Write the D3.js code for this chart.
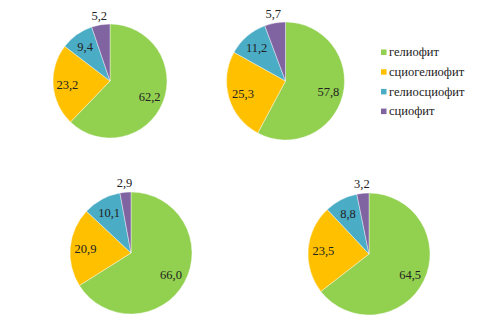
<!DOCTYPE html>
<html><head><meta charset="utf-8">
<script src="https://cdn.jsdelivr.net/npm/d3@7"></script>
<style>body{margin:0;background:#fff}svg{display:block}text{font-family:"Liberation Serif","DejaVu Serif","Times New Roman",serif}</style>
</head><body>
<svg id="c" width="485" height="332"></svg>
<script>
const categories = ["гелиофит", "сциогелиофит", "гелиосциофит", "сциофит"];
const colors = ["#92D050", "#FFC000", "#4BACC6", "#8064A2"];
const pie1 = [62.2, 23.2, 9.4, 5.2];
const pie2 = [57.8, 25.3, 11.2, 5.7];
const pie3 = [66.0, 20.9, 10.1, 2.9];
const pie4 = [64.5, 23.5, 8.8, 3.2];

const series = [pie1, pie2, pie3, pie4];
const layout = [
  {cx: 110, cy: 81, r: 57},
  {cx: 285.5, cy: 81, r: 59},
  {cx: 131, cy: 253, r: 61},
  {cx: 369, cy: 254, r: 61}
];
const svg = d3.select("#c");
const fmt = v => d3.format(".1f")(v).replace(".", ",");
const pie = d3.pie().sort(null).value(d => d);
const color = d3.scaleOrdinal().domain(categories).range(colors);

series.forEach((vals, i) => {
  const L = layout[i];
  const g = svg.append("g").attr("transform", `translate(${L.cx},${L.cy})`);
  const arcs = pie(vals);
  const arc = d3.arc().innerRadius(0).outerRadius(L.r);
  g.selectAll("path").data(arcs).enter().append("path")
    .attr("d", arc)
    .attr("fill", (d, j) => color(categories[j]))
    .attr("stroke", "#fff").attr("stroke-width", 0.4);
  g.selectAll("text").data(arcs).enter().append("text")
    .attr("transform", (d, j) => {
      const a = (d.startAngle + d.endAngle) / 2;
      const f = j === 3 ? 1.16 : 0.75;
      const x = Math.sin(a) * L.r * f;
      const y = -Math.cos(a) * L.r * f;
      return `translate(${x},${y})`;
    })
    .attr("text-anchor", "middle")
    .attr("dy", "0.35em")
    .attr("font-size", 12.5)
    .attr("fill", "#222")
    .text(d => fmt(d.data));
});

const leg = svg.append("g").attr("transform", "translate(381,52)");
categories.forEach((c, i) => {
  const row = leg.append("g").attr("transform", `translate(0,${i * 19.7})`);
  row.append("rect").attr("x", 0).attr("y", -2.5).attr("width", 5.5).attr("height", 5.5)
    .attr("fill", color(c));
  row.append("text").attr("x", 8).attr("y", 0).attr("dy", "0.35em")
    .attr("font-size", 12.5).attr("fill", "#222")
    .text(c);
});
</script>
</body></html>
